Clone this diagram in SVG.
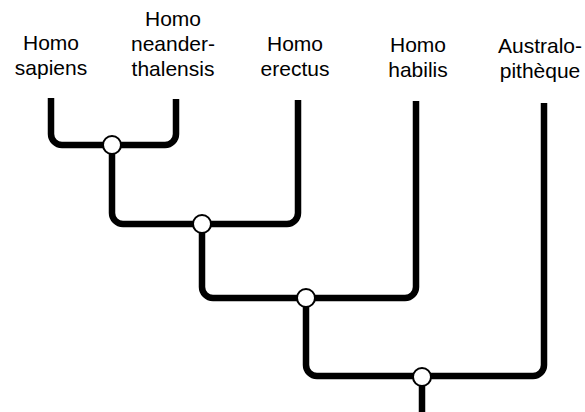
<svg xmlns="http://www.w3.org/2000/svg" width="585" height="412" viewBox="0 0 585 412">
<style>
.lbl{font-family:"Liberation Sans",Arial,sans-serif;font-size:21px;fill:#000;text-anchor:middle}
.br{fill:none;stroke:#000;stroke-width:6.5;stroke-linecap:butt;stroke-linejoin:round}
.nd{fill:#fff;stroke:#000;stroke-width:2}
</style>
<rect width="585" height="412" fill="#fff"/>
<g id="connectors">
<path class="br" d="M51,98 V134 A11,11 0 0 0 62,145 H165 A11,11 0 0 0 176,134 V99"/>
<path class="br" d="M112,145 V213 A11,11 0 0 0 123,224 H287 A11,11 0 0 0 298,213 V100"/>
<path class="br" d="M202,224 V287 A11,11 0 0 0 213,298 H405 A11,11 0 0 0 416,287 V101"/>
<path class="br" d="M306,298 V365 A11,11 0 0 0 317,376 H533 A11,11 0 0 0 544,365 V103"/>
<path class="br" d="M422,377 V412"/>
</g>
<g id="sapiens"><text class="lbl" x="51" y="50">Homo</text><text class="lbl" x="51" y="75">sapiens</text></g>
<g id="neanderthalensis"><text class="lbl" x="173" y="26">Homo</text><text class="lbl" x="173" y="51">neander-</text><text class="lbl" x="173" y="76">thalensis</text></g>
<g id="erectus"><text class="lbl" x="295" y="51">Homo</text><text class="lbl" x="295" y="76">erectus</text></g>
<g id="habilis"><text class="lbl" x="418" y="52">Homo</text><text class="lbl" x="418" y="77">habilis</text></g>
<g id="australopitheque"><text class="lbl" x="540" y="53">Australo-</text><text class="lbl" x="540" y="78">pithèque</text></g>
<g id="node1"><circle class="nd" cx="112" cy="145" r="9"/></g>
<g id="node2"><circle class="nd" cx="202" cy="224" r="9"/></g>
<g id="node3"><circle class="nd" cx="306" cy="298" r="9"/></g>
<g id="node4"><circle class="nd" cx="422" cy="377" r="9"/></g>
</svg>
